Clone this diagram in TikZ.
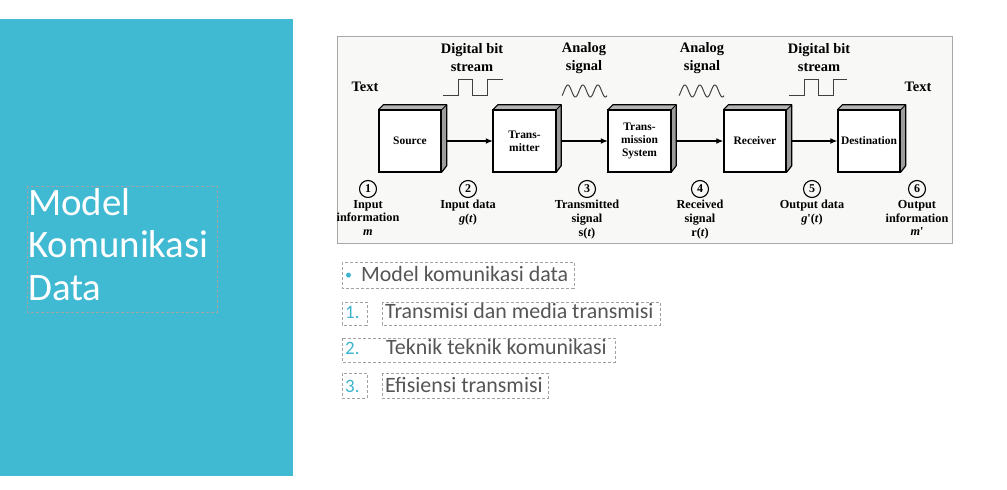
\documentclass[tikz,border=0pt]{standalone}
\usepackage{fontspec}
\setmainfont{Liberation Serif}
\newfontfamily\slidefont{Carlito}
\usetikzlibrary{arrows.meta}
\definecolor{panel}{HTML}{40B9D3}
\definecolor{txtgray}{HTML}{555555}
\definecolor{numteal}{HTML}{3CB4CE}
\definecolor{framefill}{HTML}{F8F8F6}
\definecolor{framedraw}{HTML}{A8A8A8}
\definecolor{sidegray}{HTML}{9C9C9C}
\definecolor{topgray}{HTML}{B4B4B4}
\definecolor{dashgray}{HTML}{A3A3A3}
\tikzset{
  blk/.style={draw, line width=1.4bp, fill=white, minimum width=62bp, minimum height=61bp,
    inner sep=0pt, align=center, font=\bfseries\fontsize{11.5}{13}\selectfont},
  toplbl/.style={align=center, font=\bfseries\fontsize{14.5}{18}\selectfont},
  numc/.style={circle, draw, line width=1.1bp, minimum size=17bp, inner sep=0pt,
    font=\bfseries\fontsize{12}{12}\selectfont},
  botlbl/.style={anchor=north, align=center, inner sep=0pt, font=\bfseries\fontsize{12.3}{13.8}\selectfont},
  arr/.style={line width=1.3bp, -{Latex[length=7bp,width=6bp]}, shorten <=5bp},
  wave/.style={line width=1bp, draw=black!75},
  dashbox/.style={draw=dashgray, dashed, dash pattern=on 3bp off 2bp, line width=0.6bp},
  titletxt/.style={anchor=base west, inner sep=0pt, text=white, font=\slidefont\fontsize{39}{42}\selectfont},
  listtxt/.style={anchor=base west, inner sep=0pt, text=txtgray, font=\slidefont\fontsize{22}{24}\selectfont},
  listnum/.style={anchor=base west, inner sep=0pt, text=numteal, font=\slidefont\fontsize{19}{22}\selectfont},
}
\begin{document}
\begin{tikzpicture}[x=1bp,y=-1bp]
\useasboundingbox (0,0) rectangle (1007,490);
\fill[white] (0,0) rectangle (1007,490);
% side panel
\fill[panel] (0,19) rectangle (293,476);
\draw[dashbox] (27,186) rectangle (217,312);
\node[titletxt] (t1) at (28,216) {Model};
\node[titletxt] (t2) at (28,258) {Komunikasi};
\node[titletxt] (t3) at (28,301) {Data};

% diagram frame
\draw[fill=framefill, draw=framedraw, line width=1bp] (337,37) rectangle (952,244);

% blocks
\node[blk] (src) at (410,141) {Source};
\node[blk] (tx)  at (524.5,141) {Trans-\\mitter};
\node[blk] (ts)  at (639.5,141) {Trans-\\mission\\System};
\node[blk] (rx)  at (755,141) {Receiver};
\node[blk] (dst) at (869,141) {Destination};
\foreach \n in {src,tx,ts,rx,dst}{
  \fill[sidegray] (\n.north east) -- ++(5,-5) -- ++(0,61) -- (\n.south east) -- cycle;
  \fill[topgray] (\n.north west) -- ++(5,-5) -- ([xshift=5bp,yshift=5bp]\n.north east) -- (\n.north east) -- cycle;
  \draw[line width=1.2bp, line join=round] (\n.north west) -- ++(5,-5) -- ([xshift=5bp,yshift=5bp]\n.north east) -- ++(0,61) -- (\n.south east);
  \draw[line width=1bp] (\n.north east) -- ++(5,-5);
  \draw[line width=1.4bp] (\n.north west) rectangle (\n.south east);
}
\draw[arr] (src) -- (tx);
\draw[arr] (tx) -- (ts);
\draw[arr] (ts) -- (rx);
\draw[arr] (rx) -- (dst);

% top labels
\node[toplbl] (l1) at (472,58) {Digital bit\\stream};
\node[toplbl] (l2) at (584,58) {Analog\\signal};
\node[toplbl] (l3) at (702,58) {Analog\\signal};
\node[toplbl] (l4) at (819,58) {Digital bit\\stream};
\node[toplbl] (tl) at (365,87) {Text};
\node[toplbl] (tr) at (918,87) {Text};

% waveforms
\draw[wave] (443,96) -- (458,96) -- (458,80) -- (472,80) -- (472,96) -- (487,96) -- (487,80) -- (503,80);
\draw[wave] (789,96) -- (804,96) -- (804,80) -- (818,80) -- (818,96) -- (833,96) -- (833,80) -- (847,80);
\draw[wave, domain=0:1, samples=80, smooth] plot ({562+45*\x}, {91+6*cos(3*360*\x+40)});
\draw[wave, domain=0:1, samples=80, smooth] plot ({679+45*\x}, {91+6*cos(3*360*\x+40)});

% numbered labels
\node[numc] (n1) at (368,189) {1};
\node[numc] (n2) at (468,189) {2};
\node[numc] (n3) at (587,189) {3};
\node[numc] (n4) at (700,189) {4};
\node[numc] (n5) at (812,189) {5};
\node[numc] (n6) at (917,189) {6};
\node[botlbl] (b1) at (368,200) {Input\\information\\\textit{m}};
\node[botlbl] (b2) at (468,200) {Input data\\\textit{g}(\textit{t})};
\node[botlbl] (b3) at (587,200) {Transmitted\\signal\\s(\textit{t})};
\node[botlbl] (b4) at (700,200) {Received\\signal\\r(\textit{t})};
\node[botlbl] (b5) at (812,200) {Output data\\\textit{g}\textquotesingle(\textit{t})};
\node[botlbl] (b6) at (917,200) {Output\\information\\\textit{m}\textquotesingle};

% list
\draw[dashbox] (342,262) rectangle (574,288);
\node[anchor=base west, inner sep=0pt, text=numteal, font=\slidefont\fontsize{14}{16}\selectfont] (bul) at (345,280) {\textbullet};
\node[listtxt] (i0) at (361,282) {Model komunikasi data};
\draw[dashbox] (342,302) rectangle (367,325);
\draw[dashbox] (382,302) rectangle (660,325);
\node[listnum] (m1) at (345,319) {1.};
\node[listtxt] (i1) at (385,319) {Transmisi dan media transmisi};
\draw[dashbox] (342,338) rectangle (615,362);
\node[listnum] (m2) at (345,355) {2.};
\node[listtxt] (i2) at (386,355) {Teknik teknik komunikasi};
\draw[dashbox] (342,373) rectangle (367,398);
\draw[dashbox] (382,373) rectangle (548,398);
\node[listnum] (m3) at (345,392) {3.};
\node[listtxt] (i3) at (385,392) {Efisiensi transmisi};
\end{tikzpicture}
\end{document}
